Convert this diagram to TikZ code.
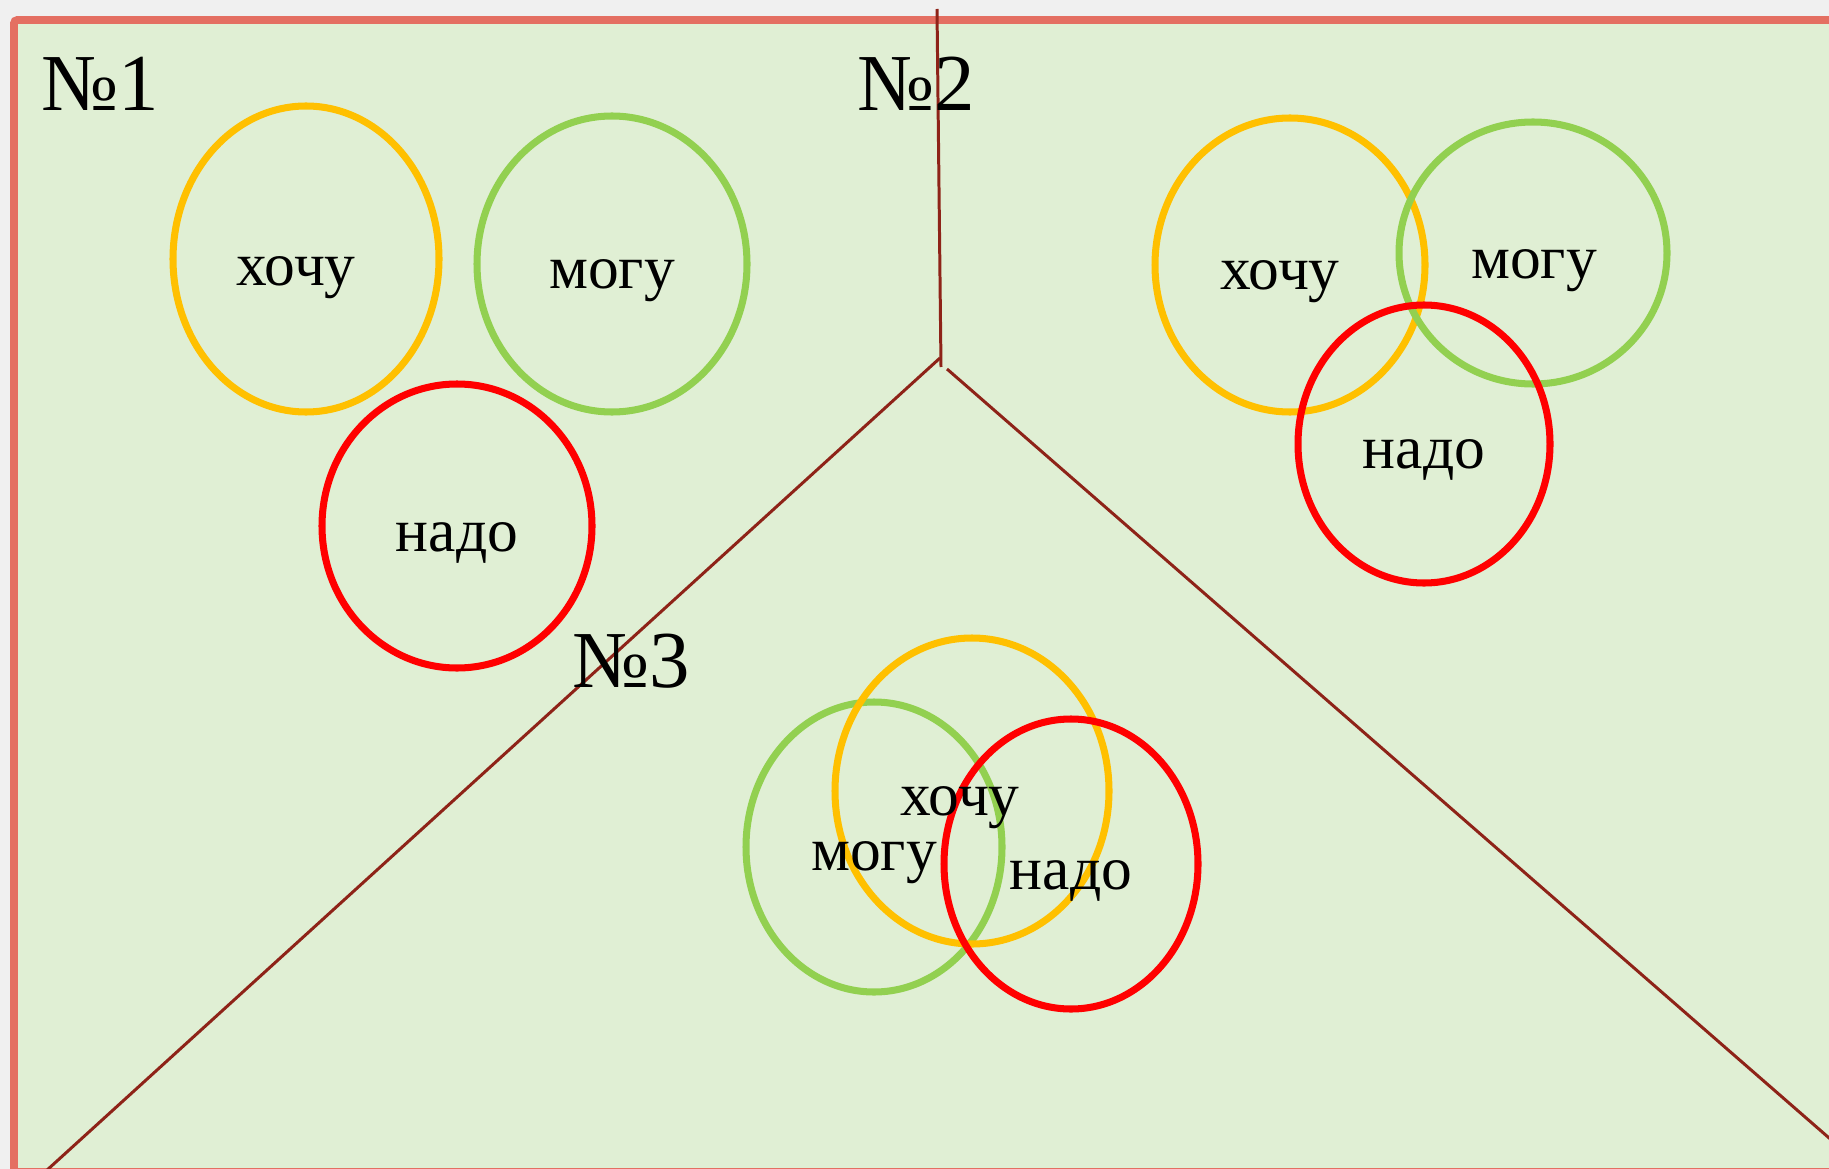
\documentclass[tikz,border=0pt]{standalone}
\usepackage{fontspec}
\setmainfont{Liberation Serif}
\usetikzlibrary{shapes.geometric}
\definecolor{pagegray}{HTML}{F0F0F0}
\definecolor{fieldgreen}{HTML}{E0EFD4}
\definecolor{framered}{HTML}{E46F62}
\definecolor{wantcol}{HTML}{FFC000}
\definecolor{cancol}{HTML}{92D050}
\definecolor{mustcol}{HTML}{FF0000}
\definecolor{splitcol}{HTML}{8E2318}

\begin{document}
\begin{tikzpicture}[x=0.02cm,y=-0.02cm]
\tikzstyle{ring} = [draw,shape=ellipse,inner sep=0pt,line width=4pt]
\tikzstyle{word} = [anchor=base,inner sep=0pt,font=\fontsize{35}{40}\selectfont]
\tikzstyle{num} = [anchor=base west,inner sep=0pt,font=\fontsize{46}{54}\selectfont]
\tikzstyle{split} = [draw=splitcol,line width=1.7pt]

\useasboundingbox (0,0) rectangle (1829,1169);
\clip (0,0) rectangle (1829,1169);
\fill[pagegray] (0,0) rectangle (1829,1169);
\draw[fill=fieldgreen,draw=framered,line width=4.5pt,rounded corners=2pt] (14,20) rectangle (1850,1172);

% dividing lines
\coordinate (top) at (937,9);
\coordinate (hub) at (941,367);
\coordinate (hubl) at (940,358);
\coordinate (hubr) at (947,369);
\coordinate (botl) at (46,1171);
\coordinate (botr) at (1836,1144);
\draw[split] (top) -- (hub);
\draw[split] (hubl) -- (botl);
\draw[split] (hubr) -- (botr);

% No 1
\node[num] (n1) at (41,111) {№1};
\node[ring,draw=wantcol,minimum width=266*0.02cm,minimum height=306*0.02cm] (want1) at (306,259) {};
\node[ring,draw=cancol,minimum width=270*0.02cm,minimum height=296*0.02cm] (can1) at (612,264) {};
\node[ring,draw=mustcol,minimum width=270*0.02cm,minimum height=284*0.02cm] (must1) at (457,526) {};
\node[word] (want1t) at (296,286) {хочу};
\node[word] (can1t) at (612,289) {могу};
\node[word] (must1t) at (457,551) {надо};

% No 2
\node[num] (n2) at (857,111) {№2};
\node[ring,draw=wantcol,minimum width=270*0.02cm,minimum height=294*0.02cm] (want2) at (1290,265) {};
\node[ring,draw=cancol,minimum width=268*0.02cm,minimum height=262*0.02cm] (can2) at (1533,253) {};
\node[ring,draw=mustcol,minimum width=252*0.02cm,minimum height=278*0.02cm] (must2) at (1424,444) {};
\node[word] (want2t) at (1280,290) {хочу};
\node[word] (can2t) at (1534,278) {могу};
\node[word] (must2t) at (1424,468) {надо};

% No 3
\node[num] (n3) at (572,687) {№3};
\node[ring,draw=cancol,minimum width=256*0.02cm,minimum height=290*0.02cm] (can3) at (874,847) {};
\node[ring,draw=wantcol,minimum width=274*0.02cm,minimum height=306*0.02cm] (want3) at (972,791) {};
\node[ring,draw=mustcol,minimum width=254*0.02cm,minimum height=290*0.02cm] (must3) at (1071,864) {};
\node[word] (want3t) at (960,815) {хочу};
\node[word] (can3t) at (874,870) {могу};
\node[word] (must3t) at (1071,889) {надо};
\end{tikzpicture}
\end{document}
